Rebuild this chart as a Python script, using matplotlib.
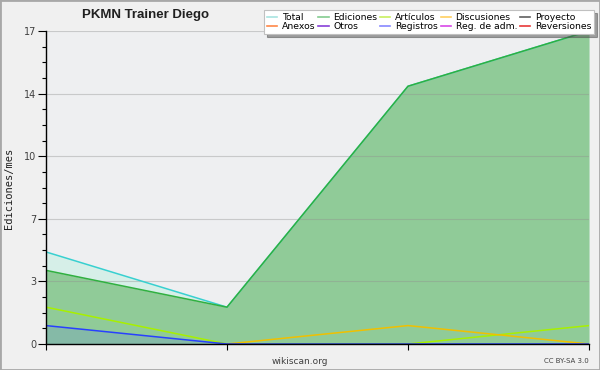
import matplotlib
matplotlib.use("Agg")
import matplotlib.pyplot as plt
import numpy as np
from matplotlib.lines import Line2D
from matplotlib.patches import Rectangle
from matplotlib.ticker import FixedLocator, FuncFormatter

# ---- data ----
months = [0, 1, 2, 3]
total = [5, 2, 14, 17]
ediciones = [4, 2, 14, 17]
articulos = [2, 0, 0, 1]
discusiones = [np.nan, 0, 1, 0]
registros = [1, 0, 0, 0]

legend_labels = ["Total", "Ediciones", "Artículos", "Discusiones", "Proyecto",
                 "Anexos", "Otros", "Registros", "Reg. de adm.", "Reversiones"]
legend_colors = ["#a8e4e0", "#84cc90", "#c8f060", "#ffd060", "#606060",
                 "#ff8848", "#8840d8", "#8888ff", "#d848e8", "#e83838"]

ymax = 17
title = "PKMN Trainer Diego"
ylabel = "Ediciones/mes"

fig = plt.figure(figsize=(6, 3.7), dpi=100)
fig.patch.set_facecolor("#f0f0f0")
ax = fig.add_axes([46/600, 26/370, (589-46)/600, (344-31)/370])
ax.set_facecolor("#eeeff1")

# fills and lines
ax.fill_between(months, 0, total, color="#d4f0e8", alpha=0.9, zorder=1, linewidth=0)
ax.plot(months, total, color="#38d0d0", lw=1.1, zorder=4)
ax.fill_between(months, 0, ediciones, color="#90cb98", zorder=2, linewidth=0)
ax.plot(months, ediciones, color="#30b040", lw=1.1, zorder=5)
ax.fill_between(months, 0, registros, color="#6080e0", alpha=0.22, zorder=3, linewidth=0)
ax.plot(months, articulos, color="#a8f000", lw=1.1, zorder=6)
ax.plot(months, discusiones, color="#f0c000", lw=1.1, zorder=6)
ax.plot(months, registros, color="#2840ff", lw=1.1, zorder=6)

ax.set_xlim(0, 3)
ax.set_ylim(0, ymax)
major = [ymax * k / 5 for k in range(6)]
ax.yaxis.set_major_locator(FixedLocator(major))
ax.yaxis.set_minor_locator(FixedLocator([ymax * k / 20 for k in range(21)]))
ax.yaxis.set_major_formatter(FuncFormatter(lambda v, p: f"{v:.0f}"))
ax.set_xticks(months)
ax.set_xticklabels([])
ax.tick_params(axis="y", which="major", length=6, width=0.8, labelsize=7,
               labelcolor="#404040", pad=1)
ax.tick_params(axis="y", which="minor", length=3, width=0.8)
ax.tick_params(axis="x", length=4, width=0.8)
ax.grid(axis="y", which="major", color="#909090", alpha=0.4, lw=0.8, zorder=7)
ax.set_axisbelow(False)
for s in ["top", "right"]:
    ax.spines[s].set_visible(False)
for s in ["left", "bottom"]:
    ax.spines[s].set_color("black")
    ax.spines[s].set_linewidth(1.0)
    ax.spines[s].set_zorder(8)

fig.text(145/600, 1 - 15/370, title, ha="center", va="center",
         fontsize=9.5, fontweight="bold", color="#202020",
         family=["Liberation Sans Narrow", "Liberation Sans", "DejaVu Sans"])
fig.text(9/600, 1 - 188/370, ylabel, rotation=90, ha="center", va="center",
         fontsize=7.5, family="DejaVu Sans Mono", color="#202020")
fig.text(300/600, 1 - 361/370, "wikiscan.org", ha="center", va="center",
         fontsize=6.5, color="#404040")
fig.text(589/600, 1 - 361/370, "CC BY-SA 3.0", ha="right", va="center",
         fontsize=5, color="#404040")

# legend (column-major ordering for 5 cols x 2 rows)
handles = [Line2D([], [], color=c, lw=1.2) for c in legend_colors]
order = []
for col in range(5):
    order += [col, col + 5]
leg = fig.legend([handles[i] for i in order], [legend_labels[i] for i in order],
                 ncol=5, loc="upper right", bbox_to_anchor=(594/600, 1 - 10/370),
                 fontsize=6.7, frameon=True, fancybox=False, shadow=True,
                 handlelength=1.1, handletextpad=0.5, columnspacing=0.3,
                 labelspacing=0.05, borderpad=0.3, borderaxespad=0)
leg.get_frame().set_edgecolor("#c0c0c0")
leg.get_frame().set_linewidth(0.8)
leg.get_frame().set_facecolor("white")
leg.get_frame().set_alpha(1)

fig.patches.append(Rectangle((0, 0), 1, 1, transform=fig.transFigure, fill=False,
                             edgecolor="#a8a8a8", lw=2, zorder=10))

fig.savefig("out.png", dpi=100, facecolor=fig.get_facecolor())
